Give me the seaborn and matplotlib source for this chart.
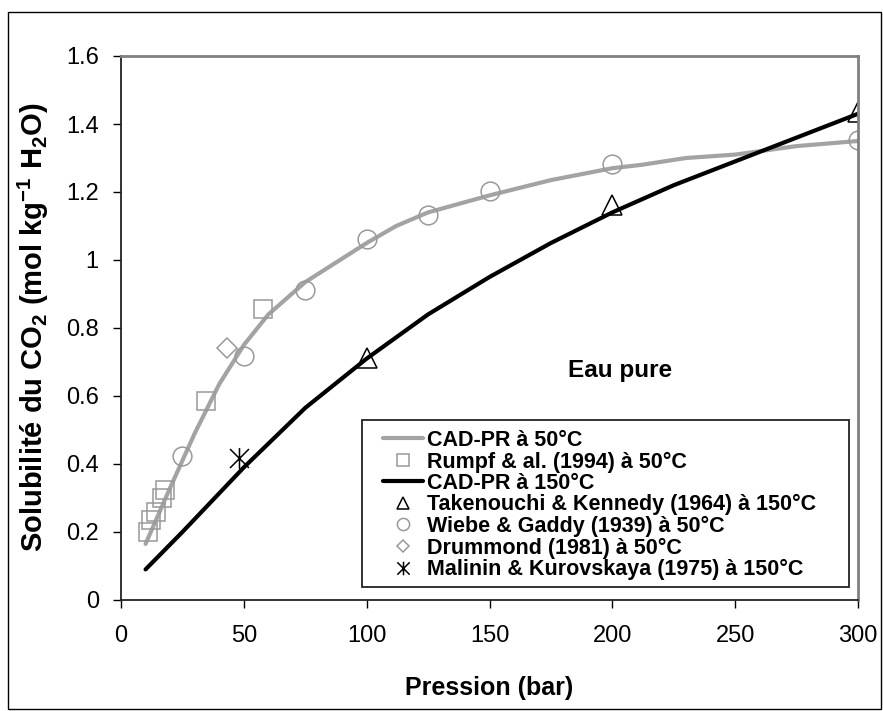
import matplotlib
matplotlib.use("Agg")
import matplotlib.pyplot as plt
import seaborn as sns
import numpy as np
import pandas as pd
from matplotlib.patches import Rectangle
from matplotlib.path import Path

# ---------------- data ----------------
cad50_p = [10, 20, 30, 40, 50, 60, 75, 100, 112, 125, 150, 175, 200, 212, 230, 250, 275, 300]
cad50_s = [0.165, 0.33, 0.49, 0.635, 0.75, 0.84, 0.935, 1.05, 1.10, 1.14, 1.19, 1.235, 1.27, 1.28, 1.30, 1.31, 1.335, 1.35]

cad150_p = [10, 25, 50, 75, 100, 125, 150, 175, 200, 225, 250, 275, 300]
cad150_s = [0.09, 0.20, 0.39, 0.565, 0.71, 0.84, 0.95, 1.05, 1.14, 1.22, 1.29, 1.36, 1.43]

rumpf_p = [10.8, 12.4, 14.1, 16.5, 18.1, 34.8, 58]
rumpf_s = [0.20, 0.235, 0.26, 0.30, 0.325, 0.585, 0.855]

taken_p = [100, 200, 300]
taken_s = [0.712, 1.163, 1.435]

wiebe_p = [25, 50, 75, 100, 125, 150, 200, 300]
wiebe_s = [0.424, 0.717, 0.913, 1.063, 1.133, 1.203, 1.283, 1.353]

drum_p = [43]
drum_s = [0.74]

malin_p = [48]
malin_s = [0.417]

xticks = [0, 50, 100, 150, 200, 250, 300]
yticks = [0, 0.2, 0.4, 0.6, 0.8, 1.0, 1.2, 1.4, 1.6]
ytick_labels = ["0", "0.2", "0.4", "0.6", "0.8", "1", "1.2", "1.4", "1.6"]

labels = [
    "CAD-PR à 50°C",
    "Rumpf & al. (1994) à 50°C",
    "CAD-PR à 150°C",
    "Takenouchi & Kennedy (1964) à 150°C",
    "Wiebe & Gaddy (1939) à 50°C",
    "Drummond (1981) à 50°C",
    "Malinin & Kurovskaya (1975) à 150°C",
]

# ---------------- style ----------------
sns.set_style("white")
plt.rcParams["font.family"] = ["Liberation Sans", "DejaVu Sans"]
plt.rcParams["mathtext.fontset"] = "custom"
plt.rcParams["mathtext.rm"] = "Liberation Sans"
plt.rcParams["mathtext.bf"] = "Liberation Sans:bold"
plt.rcParams["mathtext.default"] = "bf"
for k in ["text.color", "axes.labelcolor", "xtick.color", "ytick.color"]:
    plt.rcParams[k] = "black"

W, H = 883, 711
fig = plt.figure(figsize=(W / 100, H / 100), dpi=100)
L, R, T, B = 121, 858, 56, 600
ax = fig.add_axes([L / W, 1 - B / H, (R - L) / W, (B - T) / H])

GRAY = "#a3a3a3"
MGRAY = "#999999"

# Excel-like "star" marker: X plus a vertical bar
star = Path([(-0.5, -0.5), (0.5, 0.5), (-0.5, 0.5), (0.5, -0.5), (0, -0.55), (0, 0.55)],
            [Path.MOVETO, Path.LINETO, Path.MOVETO, Path.LINETO, Path.MOVETO, Path.LINETO])

sns.lineplot(x=cad50_p, y=cad50_s, ax=ax, color=GRAY, linewidth=3.0, label=labels[0], sort=False)
sns.lineplot(x=rumpf_p, y=rumpf_s, ax=ax, color=MGRAY, linestyle="", marker="s", markersize=13,
             markerfacecolor="none", markeredgecolor=MGRAY, markeredgewidth=1.1, label=labels[1], sort=False)
sns.lineplot(x=cad150_p, y=cad150_s, ax=ax, color="black", linewidth=3.0, label=labels[2], sort=False)
sns.lineplot(x=taken_p, y=taken_s, ax=ax, color="black", linestyle="", marker="^", markersize=14,
             markerfacecolor="none", markeredgecolor="black", markeredgewidth=1.1, label=labels[3], sort=False)
sns.lineplot(x=wiebe_p, y=wiebe_s, ax=ax, color=MGRAY, linestyle="", marker="o", markersize=13.5,
             markerfacecolor="none", markeredgecolor=MGRAY, markeredgewidth=1.1, label=labels[4], sort=False)
sns.lineplot(x=drum_p, y=drum_s, ax=ax, color=MGRAY, linestyle="", marker="D", markersize=10,
             markerfacecolor="none", markeredgecolor=MGRAY, markeredgewidth=1.1, label=labels[5], sort=False)
sns.lineplot(x=malin_p, y=malin_s, ax=ax, color="black", linestyle="", marker=star, markersize=15,
             markerfacecolor="none", markeredgecolor="black", markeredgewidth=1.1, label=labels[6], sort=False)

ax.set_xlim(0, 300)
ax.set_ylim(0, 1.6)
ax.set_xticks(xticks)
ax.set_xticklabels([str(t) for t in xticks])
ax.set_yticks(yticks)
ax.set_yticklabels(ytick_labels)
ax.tick_params(axis="both", which="major", direction="out", length=6, width=1, color="black",
               labelcolor="black", labelsize=17, left=True, bottom=True)
ax.tick_params(axis="y", pad=10)
ax.tick_params(axis="x", pad=12)

for s in ["left", "bottom"]:
    ax.spines[s].set_color("#222222")
    ax.spines[s].set_linewidth(1.3)
for s in ["top", "right"]:
    ax.spines[s].set_color("#808080")
    ax.spines[s].set_linewidth(2.0)

ax.set_xlabel("Pression (bar)", fontsize=18, fontweight="bold", va="center", color="black")
ax.xaxis.set_label_coords(0.5, (B - 688) / (B - T))
ax.set_ylabel("Solubilité du CO$_2$ (mol kg$^{-1}$ H$_2$O)", fontsize=21, fontweight="bold",
              va="center", ha="center", color="black")
ax.yaxis.set_label_coords((33 - L) / (R - L), (B - 327) / (B - T))

ax.text((620 - L) / (R - L), (B - 370) / (B - T), "Eau pure", transform=ax.transAxes,
        fontsize=17.5, fontweight="bold", ha="center", va="center", color="black")

# legend frame (Excel style: wide side padding)
ax.add_patch(Rectangle((362 / W, 1 - 587 / H), (849 - 362) / W, (587 - 420) / H,
                       transform=fig.transFigure, facecolor="white", edgecolor="#222222",
                       linewidth=1.3, clip_on=False, zorder=4))
leg = ax.legend(loc="upper left", bbox_to_anchor=(383 / W, 1 - 430 / H), bbox_transform=fig.transFigure,
                prop={"weight": "bold", "size": 15.5}, frameon=False, borderpad=0,
                labelspacing=0.02, handlelength=1.86, handletextpad=0.2, borderaxespad=0,
                markerscale=0.65, labelcolor="black")
leg.set_zorder(5)

fig.patches.append(Rectangle((8 / W, 1 - 709 / H), (881 - 8) / W, (709 - 12) / H,
                             transform=fig.transFigure, fill=False, edgecolor="black", linewidth=1.0))

fig.savefig("out.png", dpi=100)
